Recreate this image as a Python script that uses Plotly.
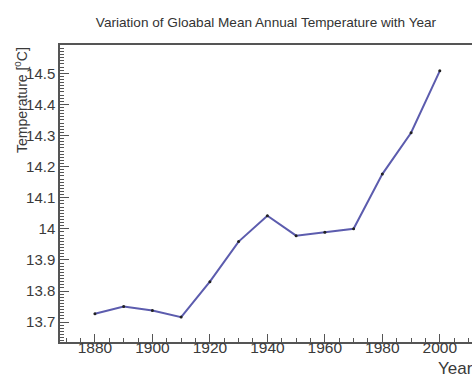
import plotly.graph_objects as go

years = [1880, 1890, 1900, 1910, 1920, 1930, 1940, 1950, 1960, 1970, 1980, 1990, 2000]
temps = [13.727, 13.75, 13.737, 13.716, 13.83, 13.959, 14.042, 13.978, 13.989, 14.0, 14.176, 14.309, 14.508]
title_text = "Variation of Gloabal Mean Annual Temperature with Year"
y_title = "Temperature [<sup>0</sup>C]"
x_title = "Year"
y_ticks = [13.7, 13.8, 13.9, 14.0, 14.1, 14.2, 14.3, 14.4, 14.5]
y_tick_labels = ["13.7", "13.8", "13.9", "14", "14.1", "14.2", "14.3", "14.4", "14.5"]
x_ticks = [1880, 1900, 1920, 1940, 1960, 1980, 2000]

font_family = "Liberation Sans, Arial, sans-serif"
axis_color = "#555555"
text_color = "#3a3a3a"

fig = go.Figure()
fig.add_trace(go.Scatter(
    x=years, y=temps, mode="lines+markers",
    line=dict(color="#5c5cae", width=2),
    marker=dict(color="#222222", size=3),
    showlegend=False,
))

fig.update_layout(
    width=472, height=374,
    margin=dict(l=60, r=0, t=45, b=32),
    paper_bgcolor="white", plot_bgcolor="white",
    title=dict(text=title_text, xref="paper", x=0.5, xanchor="center",
               yref="container", y=1 - 22 / 374, yanchor="middle",
               font=dict(family=font_family, size=13.6, color="#333333")),
    font=dict(family=font_family, color=text_color),
)
fig.update_xaxes(
    range=[1867.85, 2011.2], showgrid=False, zeroline=False, automargin=False,
    showline=True, linecolor=axis_color, linewidth=1.5, mirror=True,
    ticks="inside", ticklen=8, tickcolor=axis_color, tickwidth=1,
    tickvals=x_ticks, tickfont=dict(size=15.5, color=text_color), ticklabelstandoff=-9,
    minor=dict(dtick=5, tick0=1880, ticks="inside", ticklen=4, tickcolor=axis_color, showgrid=False),
)
fig.update_yaxes(
    range=[13.636, 14.591], showgrid=False, zeroline=False, automargin=False,
    showline=True, linecolor=axis_color, linewidth=1.5,
    ticks="inside", ticklen=9, tickcolor=axis_color, tickwidth=1,
    tickvals=y_ticks, ticktext=y_tick_labels, tickfont=dict(size=15, color=text_color),
    minor=dict(dtick=0.01, tick0=13.7, ticks="inside", ticklen=4, tickcolor=axis_color, showgrid=False),
)
fig.add_annotation(
    text=y_title, xref="paper", yref="paper", x=0, y=1, xshift=-39,
    xanchor="center", yanchor="top", textangle=-90, showarrow=False,
    font=dict(family=font_family, size=14, color=text_color),
)
fig.add_annotation(
    text=x_title, xref="paper", yref="paper", x=1, y=0, xshift=3, yshift=-15,
    xanchor="right", yanchor="top", showarrow=False,
    font=dict(family=font_family, size=17, color=text_color),
)

fig.write_html("out.html", config={"displayModeBar": False},
               post_script="document.body.style.margin='0';")
